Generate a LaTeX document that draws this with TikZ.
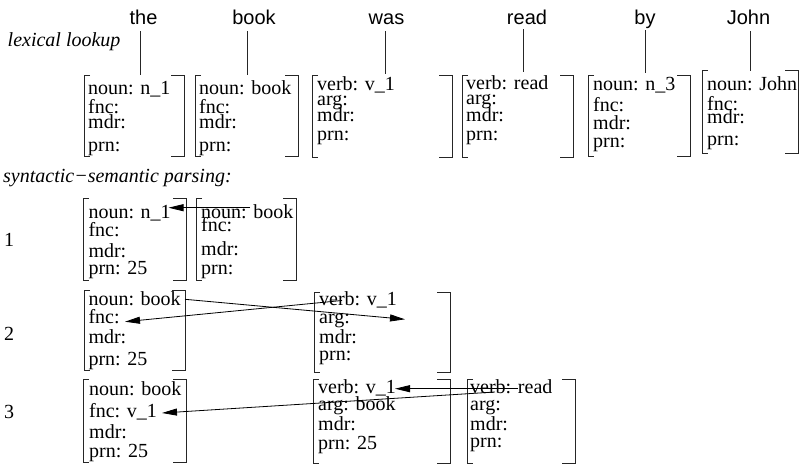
\documentclass[tikz,border=0pt]{standalone}
\usepackage{fontspec}
\setmainfont{Liberation Serif}
\newfontfamily\hsans{Liberation Sans}
\usetikzlibrary{arrows.meta}
\tikzset{
  txt/.style={anchor=base west, inner sep=0pt, font=\fontsize{20}{24}\selectfont},
  word/.style={anchor=base, inner sep=0pt, font=\hsans\fontsize{20}{24}\selectfont},
  lbl/.style={anchor=base west, inner sep=0pt, font=\itshape\fontsize{20}{24}\selectfont},
  brk/.style={draw=black!85, line width=0.9pt},
  conn/.style={draw=black!85, line width=0.9pt},
  arr/.style={draw=black, line width=0.8pt, -{Triangle[length=15pt,width=7pt]}}
}
\newcommand\fsbrk[5]{%
  \coordinate (#1-nw) at (#2,#3);
  \coordinate (#1-se) at (#4,#5);
  \draw[brk] (#2+6,#3) -- (#2,#3) -- (#2,#5) -- (#2+6,#5);
  \draw[brk] (#4-13,#3) -- (#4,#3) -- (#4,#5) -- (#4-13,#5);
}
\newcommand\fsrows[8]{% name, x, y1, y2, y3, t1, t2, t3
  \node[txt] (#1-1) at (#2,#3) {#6};
  \node[txt] (#1-2) at (#2,#4) {#7};
  \node[txt] (#1-3) at (#2,#5) {#8};
}
\newcommand\fsrowfour[4]{\node[txt] (#1-4) at (#2,#3) {#4};}
\begin{document}
\begin{tikzpicture}[x=1pt,y=-1pt]
\useasboundingbox (0,0) rectangle (809,466);

% header words
\node[word] (wthe)  at (143.5,24) {the};
\node[word] (wbook) at (254,24) {book};
\node[word] (wwas)  at (386.5,24) {was};
\node[word] (wread) at (527,24) {read};
\node[word] (wby)   at (645,24) {by};
\node[word] (wjohn) at (748.5,24) {John};

\node[lbl] (lex) at (7.5,46.5) {lexical lookup};
\node[lbl] (syn) at (3,182) {syntactic−semantic parsing:};

% lexical boxes
\fsbrk{b1}{84}{75}{184}{156}
\fsbrk{b2}{195}{75}{298}{156}
\fsbrk{b3}{312}{75}{452}{157}
\fsbrk{b4}{462}{75}{573}{157}
\fsbrk{b5}{588}{75}{690}{156}
\fsbrk{b6}{702}{70}{798}{153}

\fsrows{t1}{88}{94}{113}{128}{noun: n\_1}{fnc:}{mdr:}\fsrowfour{t1}{88}{151}{prn:}
\fsrows{t2}{199}{94}{113}{128}{noun: book}{fnc:}{mdr:}\fsrowfour{t2}{199}{151}{prn:}
\fsrows{t3}{317}{90}{105}{121}{verb: v\_1}{arg:}{mdr:}\fsrowfour{t3}{317}{140}{prn:}
\fsrows{t4}{466}{89}{104.5}{121}{verb: read}{arg:}{mdr:}\fsrowfour{t4}{466}{140}{prn:}
\fsrows{t5}{593}{90}{111}{129}{noun: n\_3}{fnc:}{mdr:}\fsrowfour{t5}{593}{147}{prn:}
\fsrows{t6}{707}{90}{110}{123}{noun: John}{fnc:}{mdr:}\fsrowfour{t6}{707}{145}{prn:}

% word connectors
\coordinate (c1) at (140,31);   \coordinate (e1) at (140,75);
\coordinate (c2) at (247,31);   \coordinate (e2) at (247,75);
\coordinate (c3) at (385,31);   \coordinate (e3) at (385,74);
\coordinate (c4) at (523,29);   \coordinate (e4) at (523,72);
\coordinate (c5) at (645,30);   \coordinate (e5) at (645,73);
\coordinate (c6) at (750,31);   \coordinate (e6) at (750,71);
\draw[conn] (c1) -- (e1);
\draw[conn] (c2) -- (e2);
\draw[conn] (c3) -- (e3);
\draw[conn] (c4) -- (e4);
\draw[conn] (c5) -- (e5);
\draw[conn] (c6) -- (e6);

% step numbers
\node[txt] (n1) at (4,246.7) {1};
\node[txt] (n2) at (4,340) {2};
\node[txt] (n3) at (4,418) {3};

% step 1
\fsbrk{sA}{83}{198}{186}{280}
\fsbrk{sB}{196}{198}{296}{280}
\fsrows{pA}{88.3}{218.3}{236.7}{257.7}{noun: n\_1}{fnc:}{mdr:}\fsrowfour{pA}{88.3}{274.3}{prn: 25}
\fsrows{pB}{201}{218.3}{231.7}{255}{noun: book}{fnc:}{mdr:}\fsrowfour{pB}{201}{274.3}{prn:}

% step 2
\fsbrk{sC}{84}{290}{185}{370}
\fsbrk{sD}{314}{292}{450}{372}
\fsrows{pC}{88.3}{305}{323.3}{343.3}{noun: book}{fnc:}{mdr:}\fsrowfour{pC}{88.3}{365}{prn: 25}
\fsrows{pD}{319}{305}{323.3}{343.3}{verb: v\_1}{arg:}{mdr:}\fsrowfour{pD}{319}{360}{prn:}

% step 3
\fsbrk{sE}{83}{379}{186}{462.5}
\fsbrk{sF}{313}{379}{450}{463}
\fsbrk{sG}{467}{379}{575}{463}
\fsrows{pE}{89}{395}{417}{438}{noun: book}{fnc: v\_1}{mdr:}\fsrowfour{pE}{89}{457.5}{prn: 25}
\fsrows{pF}{318}{393}{410}{430}{verb: v\_1}{arg: book}{mdr:}\fsrowfour{pF}{318}{449}{prn: 25}
\fsrows{pG}{470}{393}{410}{430}{verb: read}{arg:}{mdr:}\fsrowfour{pG}{470}{447}{prn:}

% arrows
\coordinate (a1s) at (250,207.7);  \coordinate (a1t) at (168.5,207.7);
\coordinate (a2s) at (185,299.3);  \coordinate (a2t) at (405,319.3);
\coordinate (a3s) at (342,300.5);  \coordinate (a3t) at (125,321.7);
\coordinate (a4s) at (518,388.7);  \coordinate (a4t) at (395,388.7);
\coordinate (a5s) at (495,392);    \coordinate (a5t) at (162,413);
\draw[arr] (a1s) -- (a1t);
\draw[arr] (a2s) -- (a2t);
\draw[arr] (a3s) -- (a3t);
\draw[arr] (a4s) -- (a4t);
\draw[arr] (a5s) -- (a5t);
\end{tikzpicture}
\end{document}
